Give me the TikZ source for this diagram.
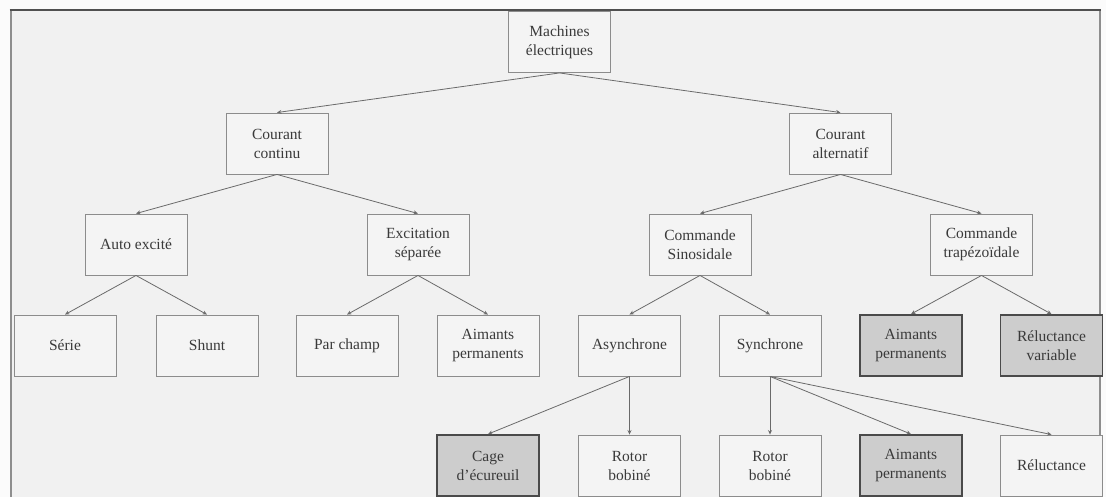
\documentclass[tikz,border=0pt]{standalone}
\usepackage{fontspec}
\setmainfont{Liberation Serif}
\usetikzlibrary{arrows.meta}
\definecolor{bgout}{HTML}{FBFBFB}
\definecolor{bgin}{HTML}{F1F1F1}
\definecolor{boxline}{HTML}{8C8C8C}
\definecolor{boxfill}{HTML}{F4F4F4}
\definecolor{darkline}{HTML}{4A4A4A}
\definecolor{shade}{HTML}{CDCDCD}
\definecolor{arrowc}{HTML}{6A6A6A}
\definecolor{txt}{HTML}{3A3A3A}
\definecolor{frametop}{HTML}{505050}
\definecolor{frameside}{HTML}{8E8E8E}
\begin{document}
\begin{tikzpicture}[x=1pt,y=-1pt,
  box/.style={draw=boxline, line width=0.9pt, fill=boxfill, minimum width=102pt,
    minimum height=61pt, inner sep=2pt, align=center,
    font=\fontsize{15.5}{19}\selectfont, text=txt},
  shaded/.style={box, draw=darkline, line width=1.8pt, fill=shade},
  conn/.style={draw=arrowc, line width=0.8pt, -{Stealth[length=4.5pt,width=4pt]}}]
\useasboundingbox (0,0) rectangle (1106,497);
\fill[bgout] (0,0) rectangle (1106,497);
\fill[bgin] (10.5,10) rectangle (1100,497);
\draw[frameside, line width=2pt] (10.5,497) -- (10.5,10);
\draw[frameside, line width=1.6pt] (1100,10) -- (1100,497);
\draw[frametop, line width=2.6pt] (9.5,10) -- (1101,10);

% row 0
\node[box] (mach) at (559.5,42) {Machines\\électriques};
% row 1
\node[box] (cc) at (277,143.5) {Courant\\continu};
\node[box] (ca) at (840.5,143.5) {Courant\\alternatif};
% row 2
\node[box] (auto) at (136,244.5) {Auto excité};
\node[box] (exc) at (418,244.5) {Excitation\\séparée};
\node[box] (sin) at (700,244.5) {Commande\\Sinosidale};
\node[box] (trap) at (981.5,244.5) {Commande\\trapézoïdale};
% row 3
\node[box] (serie) at (65,345.5) {Série};
\node[box] (shunt) at (207,345.5) {Shunt};
\node[box] (parch) at (347,345.5) {Par champ};
\node[box] (aimcc) at (488,345.5) {Aimants\\permanents};
\node[box] (async) at (629.5,345.5) {Asynchrone};
\node[box] (sync) at (770,345.5) {Synchrone};
\node[shaded] (aimtr) at (911,345.5) {Aimants\\permanents};
\node[shaded] (reltr) at (1051.5,345.5) {Réluctance\\variable};
% row 4
\node[shaded] (cage) at (488,465.5) {Cage\\d'écureuil};
\node[box] (rot1) at (629.5,465.5) {Rotor\\bobiné};
\node[box] (rot2) at (770,465.5) {Rotor\\bobiné};
\node[shaded] (aimsy) at (911,465.5) {Aimants\\permanents};
\node[box] (rel) at (1051.5,465.5) {Réluctance};

% connectors
\draw[conn] (mach.south) -- (cc.north);
\draw[conn] (mach.south) -- (ca.north);
\draw[conn] (cc.south) -- (auto.north);
\draw[conn] (cc.south) -- (exc.north);
\draw[conn] (ca.south) -- (sin.north);
\draw[conn] (ca.south) -- (trap.north);
\draw[conn] (auto.south) -- (serie.north);
\draw[conn] (auto.south) -- (shunt.north);
\draw[conn] (exc.south) -- (parch.north);
\draw[conn] (exc.south) -- (aimcc.north);
\draw[conn] (sin.south) -- (async.north);
\draw[conn] (sin.south) -- (sync.north);
\draw[conn] (trap.south) -- (aimtr.north);
\draw[conn] (trap.south) -- (reltr.north);
\draw[conn] (async.south) -- (cage.north);
\draw[conn] (async.south) -- (rot1.north);
\draw[conn] (sync.south) -- (rot2.north);
\draw[conn] (sync.south) -- (aimsy.north);
\draw[conn] (sync.south) -- (rel.north);
\end{tikzpicture}
\end{document}
